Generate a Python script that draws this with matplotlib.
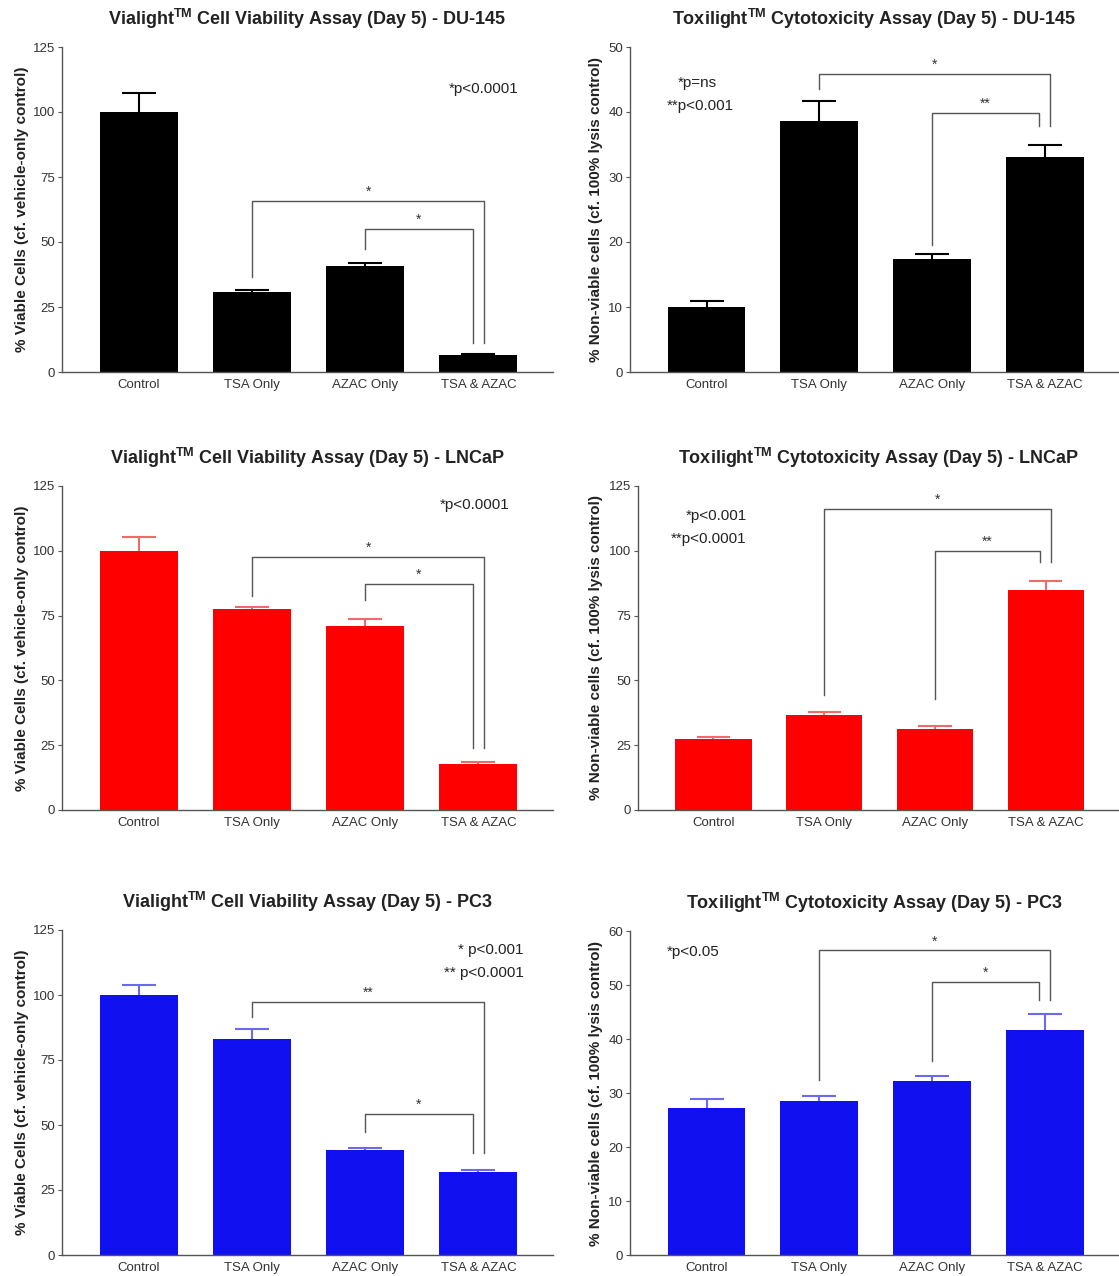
"""Vialight / Toxilight day-5 assays for three prostate cancer cell lines."""

import matplotlib

matplotlib.use("Agg")
import matplotlib.pyplot as plt

plt.rcParams["font.family"] = ["Liberation Sans", "DejaVu Sans"]
plt.rcParams["mathtext.fontset"] = "custom"
plt.rcParams["mathtext.bf"] = "Liberation Sans:bold"
plt.rcParams["mathtext.rm"] = "Liberation Sans"

categories = ["Control", "TSA Only", "AZAC Only", "TSA & AZAC"]

du145_viab = [100.0, 30.8, 40.9, 6.4]
du145_viab_err = [7.2, 0.9, 1.1, 0.4]
du145_tox = [10.0, 38.6, 17.4, 33.1]
du145_tox_err = [0.9, 3.1, 0.7, 1.9]

lncap_viab = [100.0, 77.6, 71.1, 17.7]
lncap_viab_err = [5.5, 0.9, 2.7, 0.9]
lncap_tox = [27.4, 36.6, 31.2, 84.7]
lncap_tox_err = [0.7, 1.1, 1.3, 3.7]

pc3_viab = [100.0, 83.1, 40.4, 31.9]
pc3_viab_err = [3.8, 3.8, 0.8, 0.8]
pc3_tox = [27.2, 28.6, 32.2, 41.7]
pc3_tox_err = [1.6, 0.8, 0.9, 2.9]

# significance brackets: (from group, to group, height, left leg end, right leg end, label)
du145_viab_sig = [(1, 3, 65.9, 36.6, 11.2, "*"), (2, 3, 54.9, 47.2, 11.2, "*")]
du145_tox_sig = [(1, 3, 45.9, 43.5, 37.9, "*"), (2, 3, 39.9, 19.5, 37.9, "**")]
lncap_viab_sig = [(1, 3, 97.8, 82.6, 23.9, "*"), (2, 3, 87.3, 81.1, 23.9, "*")]
lncap_tox_sig = [(1, 3, 116.0, 44.5, 95.5, "*"), (2, 3, 100.1, 42.8, 95.5, "**")]
pc3_viab_sig = [(1, 3, 97.3, 91.4, 39.1, "**"), (2, 3, 54.2, 47.2, 39.1, "*")]
pc3_tox_sig = [(1, 3, 56.4, 32.5, 47.3, "*"), (2, 3, 50.6, 36.0, 47.3, "*")]

# p-value notes: (x, y, text, alignment)
du145_viab_notes = [(3.05, 109.0, "*p<0.0001", "center")]
du145_tox_notes = [(-0.08, 44.4, "*p=ns", "center"), (-0.06, 40.9, "**p<0.001", "center")]
lncap_viab_notes = [(2.97, 117.7, "*p<0.0001", "center")]
lncap_tox_notes = [(0.30, 113.5, "*p<0.001", "right"), (0.30, 104.5, "**p<0.0001", "right")]
pc3_viab_notes = [(3.40, 117.3, "* p<0.001", "right"), (3.40, 108.6, "** p<0.0001", "right")]
pc3_tox_notes = [(-0.12, 56.1, "*p<0.05", "center")]

VIAB_LABEL = "% Viable Cells (cf. vehicle-only control)"
TOX_LABEL = "% Non-viable cells (cf. 100% lysis control)"

W, H = 1119, 1276


def draw_panel(fig, rect, vals, errs, sig, notes, title, ylabel, ymax, ystep,
               color, err_color, labelpad):
    x0, y_top, x1, y_bot = rect
    ax = fig.add_axes([x0 / W, 1 - y_bot / H, (x1 - x0) / W, (y_bot - y_top) / H])
    pos = list(range(len(categories)))
    ax.bar(pos, vals, width=0.69, color=color, zorder=2)
    tops = [v + e for v, e in zip(vals, errs)]
    ax.vlines(pos, vals, tops, color=err_color, lw=1.5, zorder=3)
    ax.hlines(tops, [p - 0.15 for p in pos], [p + 0.15 for p in pos],
              color=err_color, lw=1.5, zorder=3)

    for a, b, h, la, lb, lab in sig:
        xb = b + (0.05 if a == 1 else -0.05)
        ax.plot([a, a, xb, xb], [la, h, h, lb], color="#555555", lw=1.0, zorder=1)
        ax.text((a + xb) / 2, h + 0.028 * ymax, lab, ha="center", va="center",
                fontsize=10, color="#333333")
    for nx, ny, txt, al in notes:
        ax.text(nx, ny, txt, ha=al, va="center", fontsize=11, color="#222222")

    ax.set_xlim(-0.68, 3.66)
    ax.set_ylim(0, ymax)
    ax.set_yticks(range(0, ymax + 1, ystep))
    ax.set_xticks(pos)
    ax.set_xticklabels(categories)
    ax.tick_params(axis="x", length=0, pad=5, labelsize=9.5, labelcolor="#333333")
    ax.tick_params(axis="y", length=3, width=0.8, pad=2, labelsize=9.5,
                   labelcolor="#333333", color="#555555")
    for s in ("top", "right"):
        ax.spines[s].set_visible(False)
    for s in ("left", "bottom"):
        ax.spines[s].set_color("#555555")
        ax.spines[s].set_linewidth(1.0)
    ax.set_ylabel(ylabel, fontsize=11, fontweight="bold", color="#222222",
                  labelpad=labelpad)
    ax.set_title(title, fontsize=13, fontweight="bold", color="#222222", pad=16)
    return ax


def main():
    fig = plt.figure(figsize=(W / 100, H / 100), dpi=100)
    fig.patch.set_facecolor("white")

    via = r"Vialight$^{\mathbf{TM}}$ Cell Viability Assay (Day 5) - "
    tox = r"Toxilight$^{\mathbf{TM}}$ Cytotoxicity Assay (Day 5) - "

    draw_panel(fig, (62, 47, 553, 372), du145_viab, du145_viab_err, du145_viab_sig,
               du145_viab_notes, via + "DU-145", VIAB_LABEL, 125, 25, "black", "black", 3)
    draw_panel(fig, (630, 47, 1119, 372), du145_tox, du145_tox_err, du145_tox_sig,
               du145_tox_notes, tox + "DU-145", TOX_LABEL, 50, 10, "black", "black", 4)
    draw_panel(fig, (62, 486, 553, 810), lncap_viab, lncap_viab_err, lncap_viab_sig,
               lncap_viab_notes, via + "LNCaP", VIAB_LABEL, 125, 25, "#ff0000", "#f06a6a", 3)
    draw_panel(fig, (638, 486, 1119, 810), lncap_tox, lncap_tox_err, lncap_tox_sig,
               lncap_tox_notes, tox + "LNCaP", TOX_LABEL, 125, 25, "#ff0000", "#f06a6a", 4)
    draw_panel(fig, (62, 930, 553, 1255), pc3_viab, pc3_viab_err, pc3_viab_sig,
               pc3_viab_notes, via + "PC3", VIAB_LABEL, 125, 25, "#1010f0", "#6a6af0", 3)
    draw_panel(fig, (630, 931, 1119, 1255), pc3_tox, pc3_tox_err, pc3_tox_sig,
               pc3_tox_notes, tox + "PC3", TOX_LABEL, 60, 10, "#1010f0", "#6a6af0", 4)

    fig.savefig("out.png", dpi=100, facecolor="white")
    plt.close(fig)


if __name__ == "__main__":
    main()
